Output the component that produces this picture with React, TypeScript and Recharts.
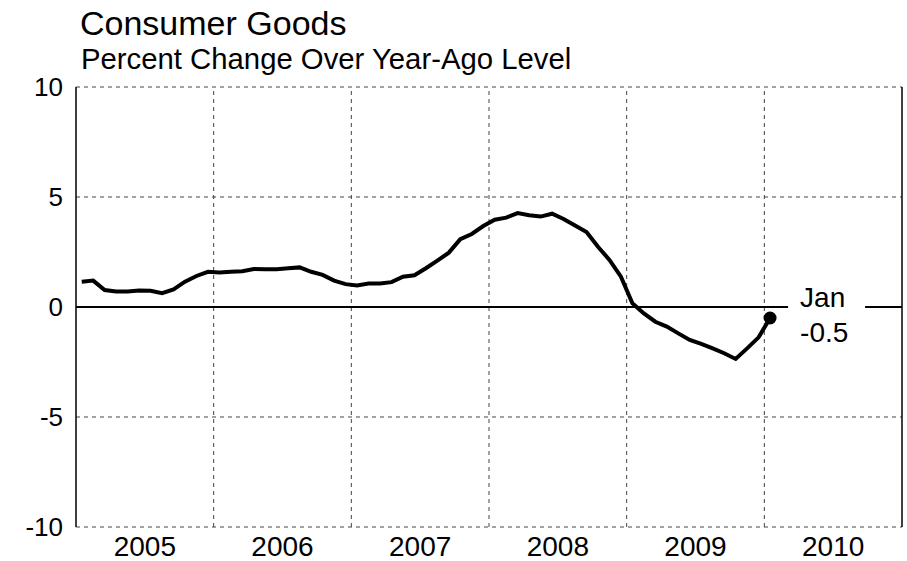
import React from 'react';
import { LineChart, Line, XAxis, YAxis, CartesianGrid, ReferenceLine, ReferenceDot } from 'recharts';

const FONT = '"Liberation Sans", Arial, sans-serif';

// monthly, Jan 2005 .. Jan 2010
const months = [
  'Jan 05', 'Feb 05', 'Mar 05', 'Apr 05', 'May 05', 'Jun 05', 'Jul 05', 'Aug 05', 'Sep 05', 'Oct 05', 'Nov 05', 'Dec 05',
  'Jan 06', 'Feb 06', 'Mar 06', 'Apr 06', 'May 06', 'Jun 06', 'Jul 06', 'Aug 06', 'Sep 06', 'Oct 06', 'Nov 06', 'Dec 06',
  'Jan 07', 'Feb 07', 'Mar 07', 'Apr 07', 'May 07', 'Jun 07', 'Jul 07', 'Aug 07', 'Sep 07', 'Oct 07', 'Nov 07', 'Dec 07',
  'Jan 08', 'Feb 08', 'Mar 08', 'Apr 08', 'May 08', 'Jun 08', 'Jul 08', 'Aug 08', 'Sep 08', 'Oct 08', 'Nov 08', 'Dec 08',
  'Jan 09', 'Feb 09', 'Mar 09', 'Apr 09', 'May 09', 'Jun 09', 'Jul 09', 'Aug 09', 'Sep 09', 'Oct 09', 'Nov 09', 'Dec 09',
  'Jan 10',
];

const pctChange = [
  1.15, 1.2, 0.77, 0.7, 0.7, 0.75, 0.74, 0.63, 0.8, 1.15, 1.41, 1.6,
  1.57, 1.6, 1.63, 1.73, 1.72, 1.72, 1.76, 1.8, 1.6, 1.46, 1.2, 1.04,
  0.98, 1.07, 1.07, 1.13, 1.38, 1.44, 1.76, 2.11, 2.47, 3.08, 3.32, 3.68,
  3.97, 4.06, 4.27, 4.17, 4.11, 4.24, 4.0, 3.7, 3.41, 2.74, 2.14, 1.38,
  0.17, -0.29, -0.67, -0.89, -1.2, -1.5, -1.68, -1.88, -2.1, -2.36, -1.88, -1.38,
  -0.5,
];

const years = ['2005', '2006', '2007', '2008', '2009', '2010'];
const yTicks = [-10, -5, 0, 5, 10];

// x is months since Jan 2005, plotted mid-month
const data = months.map((m, i) => ({ month: m, x: i + 0.5, value: pctChange[i] }));
const yearCenters = years.map((_, i) => i * 12 + 6);
const yearBounds = years.slice(1).map((_, i) => (i + 1) * 12);
const last = data[data.length - 1];

const LastLabel = (props: any) => {
  const { viewBox } = props;
  const cx = viewBox.x + viewBox.width / 2;
  const cy = viewBox.y + viewBox.height / 2;
  return (
    <g>
      <rect x={cx + 18} y={cy - 30} width={77} height={26} fill="#fff" />
      <text x={cx + 30} y={cy - 11} fontSize={28} fontFamily={FONT} fill="#000">Jan</text>
      <text x={cx + 30} y={cy + 24} fontSize={28} fontFamily={FONT} fill="#000">{last.value.toFixed(1)}</text>
    </g>
  );
};

export default function App() {
  return (
    <div style={{ position: 'absolute', left: 0, top: 0, width: 907, height: 561, background: '#fff' }}>
      <LineChart width={907} height={561} data={data} margin={{ top: 87, right: 5, bottom: 0, left: 0 }}>
        <CartesianGrid vertical={false} stroke="#444" strokeDasharray="4 4" />
        <XAxis
          dataKey="x"
          type="number"
          domain={[0, 72]}
          ticks={yearCenters}
          tickFormatter={(v: number) => years[Math.floor(v / 12)]}
          axisLine={false}
          tickLine={false}
          tickSize={0}
          tickMargin={9}
          height={34}
          tick={{ fontSize: 28, fontFamily: FONT, fill: '#000' }}
          allowDataOverflow
        />
        <YAxis
          type="number"
          domain={[-10, 10]}
          ticks={yTicks}
          axisLine={false}
          tickLine={false}
          tickSize={0}
          tickMargin={13}
          width={76}
          tick={{ fontSize: 26, fontFamily: FONT, fill: '#000' }}
          interval={0}
        />
        {yearBounds.map((b) => (
          <ReferenceLine key={b} x={b} stroke="#444" strokeDasharray="4 4" />
        ))}
        <ReferenceLine x={0} stroke="#000" strokeWidth={1.5} />
        <ReferenceLine x={72} stroke="#000" strokeWidth={1.5} />
        <ReferenceLine y={0} stroke="#000" strokeWidth={2} />
        <Line
          type="linear"
          dataKey="value"
          stroke="#000"
          strokeWidth={4}
          dot={false}
          activeDot={false}
          isAnimationActive={false}
        />
        <ReferenceDot x={last.x} y={last.value} r={6.5} fill="#000" stroke="none" label={<LastLabel />} />
      </LineChart>
      <svg width={907} height={80} style={{ position: 'absolute', left: 0, top: 0, pointerEvents: 'none' }}>
        <text x={80} y={35} fontSize={34} fontFamily={FONT} fill="#000">Consumer Goods</text>
        <text x={81} y={69} fontSize={29.3} fontFamily={FONT} fill="#000">Percent Change Over Year-Ago Level</text>
      </svg>
    </div>
  );
}
